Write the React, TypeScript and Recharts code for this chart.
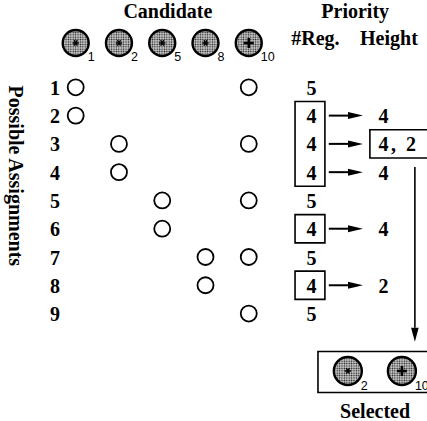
import React from 'react';
import { ScatterChart, Scatter, XAxis, YAxis, ReferenceArea, ReferenceLine } from 'recharts';

// candidate registers shown across the top, and their marks
const CANDIDATES = [1, 2, 5, 8, 10];
const CANDIDATE_MARKS = ['*', '*', '*', '*', '+'];

// possible assignments: row number -> candidate columns used (1-based)
const ROWS = [1, 2, 3, 4, 5, 6, 7, 8, 9];
const ASSIGNMENTS = [[1, 5], [1], [2, 5], [2], [3, 5], [3], [4, 5], [4], [5]];

// priority columns
const REG_COUNT = [5, 4, 4, 4, 5, 4, 5, 4, 5];
const REG_BOXES = [[2, 4], [6, 6], [8, 8]];
const HEIGHT_ROWS = [2, 3, 4, 6, 8];
const HEIGHT_LABELS = ['4', '4, 2', '4', '4', '2'];
const HEIGHT_BOXED_ROW = 3;

const SELECTED = [2, 10];

// layout in chart units (x: candidate columns, y: assignment rows)
const X_ROWNUM = 0.52;
const X_REG = 6.45;
const X_HEIGHT = 8.0;
const Y_TITLE = -1.72;
const Y_HEADER = -0.57;
const Y_SUBHEAD = -0.76;
const Y_SELECTED = 11.03;

const SERIF = '"Liberation Serif", "Times New Roman", serif';
const SANS = '"Liberation Sans", Arial, sans-serif';

const headerDots = CANDIDATES.map((id, i) => ({ x: i + 1, y: Y_HEADER, id, mark: CANDIDATE_MARKS[i] }));
const selectedDots = SELECTED.map((id, i) => ({
  x: 7.29 + i * 1.25,
  y: Y_SELECTED,
  id,
  mark: CANDIDATE_MARKS[CANDIDATES.indexOf(id)],
}));
const assignmentDots = ASSIGNMENTS.flatMap((cols, r) => cols.map(c => ({ x: c, y: ROWS[r] })));
const rowLabels = ROWS.map(r => ({ x: X_ROWNUM, y: r, label: String(r) }));
const regLabels = REG_COUNT.map((v, i) => ({ x: X_REG, y: ROWS[i], label: String(v) }));
const heightLabels = HEIGHT_ROWS.map((r, i) => ({ x: X_HEIGHT, y: r, label: HEIGHT_LABELS[i] }));
const titles = [
  { x: 3.13, y: Y_TITLE, label: 'Candidate' },
  { x: 7.46, y: Y_TITLE, label: 'Priority' },
  { x: 6.54, y: Y_SUBHEAD, label: '#Reg.' },
  { x: 8.24, y: Y_SUBHEAD, label: 'Height' },
  { x: 7.92, y: 12.42, label: 'Selected' },
];
const sideTitle = [{ x: -0.37, y: 4.13, label: 'Possible Assignments' }];

const candidateShape = (r: number, prefix: string) => (props: any) => {
  const { cx, cy, payload } = props;
  const id = `ht-${prefix}-${payload.id}`;
  const ast = [0, 60, 120].map(a => {
    const t = (a * Math.PI) / 180;
    return { dx: Math.cos(t) * 3.2, dy: Math.sin(t) * 3.2 };
  });
  return (
    <g>
      <defs>
        <pattern id={id} width={2.4} height={2.4} patternUnits="userSpaceOnUse">
          <rect width={2.4} height={2.4} fill="#cfcfcf" />
          <circle cx={1.2} cy={1.2} r={0.8} fill="#1a1a1a" />
        </pattern>
      </defs>
      <circle cx={cx} cy={cy} r={r} fill={`url(#${id})`} stroke="#000" strokeWidth={2.4} />
      {payload.mark === '+' ? (
        <g stroke="#000" strokeWidth={2.6}>
          <line x1={cx - 5} y1={cy} x2={cx + 5} y2={cy} />
          <line x1={cx} y1={cy - 5} x2={cx} y2={cy + 5} />
        </g>
      ) : (
        <g stroke="#000" strokeWidth={1.4}>
          {ast.map((d, i) => (
            <line key={i} x1={cx - d.dx} y1={cy - d.dy} x2={cx + d.dx} y2={cy + d.dy} />
          ))}
        </g>
      )}
      <text x={cx + r - 1} y={cy + r + 5} fontFamily={SANS} fontSize={12.5} fill="#000">
        {payload.id}
      </text>
    </g>
  );
};

const openCircle = (props: any) => (
  <circle cx={props.cx} cy={props.cy} r={8} fill="none" stroke="#000" strokeWidth={1.8} />
);

const textShape = (anchor: 'start' | 'middle', rotate = 0, spacing = 0) => (props: any) => {
  const { cx, cy, payload } = props;
  const boxed = payload.label.includes(',');
  return (
    <text
      x={cx}
      y={cy}
      dy="0.38em"
      textAnchor={anchor}
      fontFamily={SERIF}
      fontWeight="bold"
      fontSize={20}
      letterSpacing={boxed ? 2.5 : spacing}
      fill="#000"
      transform={rotate ? `rotate(${rotate} ${cx} ${cy})` : undefined}
    >
      {payload.label}
    </text>
  );
};

const arrowShape = (head: number, half: number, width: number) => (props: any) => {
  const { x1, y1, x2, y2 } = props;
  const len = Math.hypot(x2 - x1, y2 - y1) || 1;
  const ux = (x2 - x1) / len;
  const uy = (y2 - y1) / len;
  const bx = x2 - ux * head;
  const by = y2 - uy * head;
  const px = -uy * half;
  const py = ux * half;
  return (
    <g>
      <line x1={x1} y1={y1} x2={bx} y2={by} stroke="#000" strokeWidth={width} />
      <polygon points={`${x2},${y2} ${bx + px},${by + py} ${bx - px},${by - py}`} fill="#000" />
    </g>
  );
};

export default function App() {
  return (
    <div style={{ position: 'absolute', left: 0, top: 0, width: 427, height: 421, background: '#fff' }}>
      <ScatterChart width={427} height={421} margin={{ top: 2.5, right: 0, bottom: 0, left: 0 }}>
        <XAxis type="number" dataKey="x" domain={[-0.75, 9.12]} allowDataOverflow hide />
        <YAxis type="number" dataKey="y" domain={[-2, 12.8]} allowDataOverflow reversed hide />

        {REG_BOXES.map(([a, b], i) => (
          <ReferenceArea key={`rb${i}`} x1={6.07} x2={6.76} y1={a - 0.5} y2={b + 0.5}
            fill="none" stroke="#000" strokeWidth={1.6} ifOverflow="visible" />
        ))}
        <ReferenceArea x1={7.8} x2={9.4} y1={HEIGHT_BOXED_ROW - 0.5} y2={HEIGHT_BOXED_ROW + 0.5}
          fill="none" stroke="#000" strokeWidth={1.6} ifOverflow="visible" />
        <ReferenceArea x1={6.6} x2={9.4} y1={10.34} y2={11.79}
          fill="none" stroke="#000" strokeWidth={1.6} ifOverflow="visible" />

        {HEIGHT_ROWS.map(r => (
          <ReferenceLine key={`ar${r}`} segment={[{ x: 6.85, y: r }, { x: 7.64, y: r }]}
            ifOverflow="visible" shape={arrowShape(15, 3.5, 2)} />
        ))}
        <ReferenceLine segment={[{ x: 8.84, y: 3.82 }, { x: 8.84, y: 10.0 }]}
          ifOverflow="visible" shape={arrowShape(14, 3.8, 1.6)} />

        <Scatter data={titles} shape={textShape('middle')} isAnimationActive={false} />
        <Scatter data={sideTitle} shape={textShape('middle', 90)} isAnimationActive={false} />
        <Scatter data={headerDots} shape={candidateShape(13, 'h')} isAnimationActive={false} />
        <Scatter data={rowLabels} shape={textShape('middle')} isAnimationActive={false} />
        <Scatter data={assignmentDots} shape={openCircle} isAnimationActive={false} />
        <Scatter data={regLabels} shape={textShape('middle')} isAnimationActive={false} />
        <Scatter data={heightLabels} shape={textShape('start')} isAnimationActive={false} />
        <Scatter data={selectedDots} shape={candidateShape(14, 's')} isAnimationActive={false} />
      </ScatterChart>
    </div>
  );
}
